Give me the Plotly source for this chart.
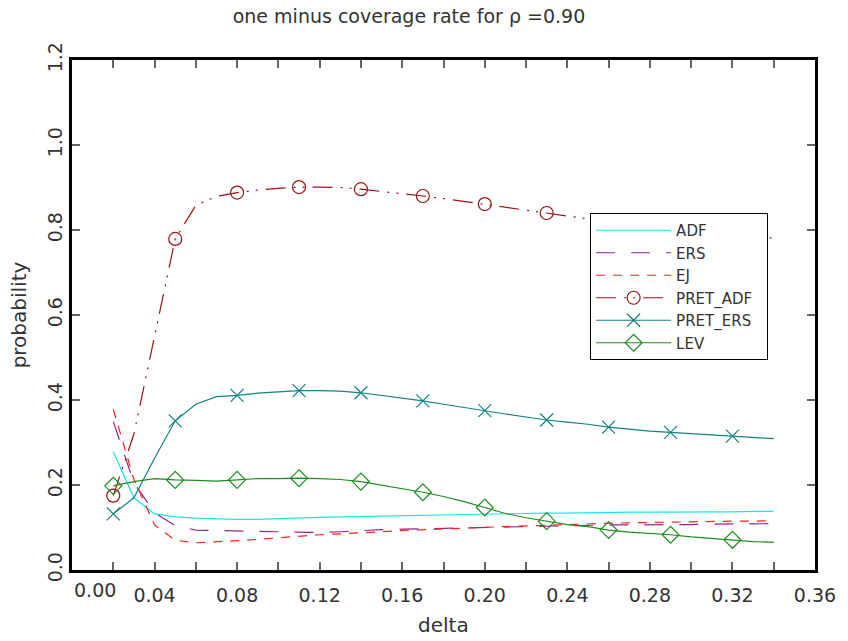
import plotly.graph_objects as go

# delta grid shared by every series
delta = [0.02, 0.03, 0.04, 0.05, 0.06, 0.07, 0.08, 0.09, 0.10, 0.11, 0.12,
         0.13, 0.14, 0.15, 0.16, 0.17, 0.18, 0.19, 0.20, 0.21, 0.22, 0.23,
         0.24, 0.25, 0.26, 0.27, 0.28, 0.29, 0.30, 0.31, 0.32, 0.33, 0.34]

adf = [0.278, 0.170, 0.132, 0.125, 0.122, 0.120, 0.119, 0.119, 0.121, 0.123, 0.124,
       0.125, 0.126, 0.127, 0.128, 0.129, 0.130, 0.131, 0.132, 0.133, 0.133, 0.134,
       0.134, 0.135, 0.135, 0.136, 0.136, 0.136, 0.137, 0.137, 0.137, 0.138, 0.138]

ers = [0.349, 0.205, 0.135, 0.104, 0.094, 0.093, 0.091, 0.090, 0.089, 0.088, 0.088,
       0.090, 0.093, 0.095, 0.096, 0.097, 0.099, 0.100, 0.101, 0.102, 0.103, 0.104,
       0.104, 0.105, 0.106, 0.106, 0.106, 0.107, 0.107, 0.108, 0.108, 0.109, 0.109]

ej = [0.378, 0.213, 0.106, 0.070, 0.064, 0.066, 0.069, 0.072, 0.076, 0.080, 0.083,
      0.085, 0.087, 0.090, 0.093, 0.095, 0.097, 0.099, 0.101, 0.103, 0.104, 0.105,
      0.107, 0.109, 0.110, 0.111, 0.112, 0.113, 0.114, 0.114, 0.115, 0.115, 0.116]

pret_adf = [0.175, 0.320, 0.550, 0.779, 0.858, 0.879, 0.888, 0.894, 0.898, 0.901, 0.901,
            0.900, 0.896, 0.891, 0.886, 0.880, 0.874, 0.867, 0.861, 0.854, 0.847, 0.840,
            0.833, 0.826, 0.820, 0.814, 0.808, 0.803, 0.798, 0.793, 0.789, 0.785, 0.781]

pret_ers = [0.132, 0.170, 0.263, 0.351, 0.390, 0.408, 0.411, 0.416, 0.419, 0.422, 0.422,
            0.421, 0.417, 0.411, 0.405, 0.398, 0.390, 0.382, 0.375, 0.367, 0.360, 0.353,
            0.348, 0.343, 0.336, 0.331, 0.327, 0.324, 0.321, 0.318, 0.315, 0.312, 0.309]

lev = [0.198, 0.208, 0.215, 0.212, 0.211, 0.209, 0.212, 0.215, 0.215, 0.216, 0.215,
       0.213, 0.208, 0.200, 0.192, 0.183, 0.173, 0.161, 0.147, 0.133, 0.123, 0.115,
       0.107, 0.102, 0.094, 0.089, 0.086, 0.083, 0.078, 0.074, 0.071, 0.067, 0.065]

# symbols are drawn on every third delta
marked = list(range(0, len(delta) - 1, 3))

FONT = "DejaVu Sans"
TXT = "#333333"
PAD = "\u00a0" * 2  # widens the legend box a little

fig = go.Figure()


def add_series(name, y, color, dash="solid", symbol=None):
    kw = dict(x=delta, y=y, name=name,
              line=dict(color=color, width=1.2, dash=dash))
    if symbol is None:
        kw["mode"] = "lines"
    else:
        kw["mode"] = "lines+markers"
        kw["marker"] = dict(symbol=symbol, size=13, color=color,
                            line=dict(color=color, width=1.2))
        kw["selectedpoints"] = marked
        kw["selected"] = dict(marker=dict(opacity=1))
        kw["unselected"] = dict(marker=dict(opacity=0))
    fig.add_trace(go.Scatter(**kw))


add_series("ADF", adf, "#19E6E6")
add_series("ERS", ers, "#8E2A8E", dash="19px,16px")
add_series("EJ", ej, "#FF2020", dash="9px,8px")
add_series("PRET_ADF" + PAD, pret_adf, "#961414", dash="20px,8px,2px,7px,2px,8px",
           symbol="circle-open")
add_series("PRET_ERS", pret_ers, "#148282", symbol="x-thin-open")
add_series("LEV", lev, "#1E8C1E", symbol="diamond-open")

axis_common = dict(
    showgrid=False, zeroline=False,
    showline=True, linecolor="black", linewidth=2.5, mirror="allticks",
    ticks="inside", ticklen=8, tickwidth=1.5, tickcolor="#666666",
    tickfont=dict(family=FONT, size=19, color=TXT),
)

fig.update_layout(
    width=848, height=641, autosize=False,
    margin=dict(l=72, r=26, t=60, b=71),
    paper_bgcolor="white", plot_bgcolor="white",
    font=dict(family=FONT, color=TXT),
    title=dict(text="one minus coverage rate for \u03c1 =0.90",
               font=dict(family=FONT, size=19, color=TXT),
               x=409 / 848, xref="container", xanchor="center",
               y=1 - 16 / 641, yref="container", yanchor="middle"),
    xaxis=dict(range=[0, 0.36], tick0=0, dtick=0.04, tickformat=".2f",
               labelalias={"0.00": " "}, ticklabelstandoff=6,
               minor=dict(dtick=0.02, ticks="inside", ticklen=8,
                          tickwidth=1.5, tickcolor="#666666"),
               **axis_common),
    yaxis=dict(range=[0, 1.2], tick0=0, dtick=0.2, tickformat=".1f",
               tickangle=-90,
               title=dict(text="probability", standoff=12,
                          font=dict(family=FONT, size=20, color=TXT)),
               **axis_common),
    legend=dict(x=(595 - 72) / 750, xanchor="left",
                y=(570 - 213) / 510, yanchor="top",
                bgcolor="white", bordercolor="black", borderwidth=1,
                font=dict(family=FONT, size=15, color=TXT),
                itemwidth=75, tracegroupgap=0),
    showlegend=True,
)

# origin label sits just right of the corner
fig.add_annotation(x=0, y=0, xref="x", yref="paper", text="0.00",
                   showarrow=False, xanchor="left", yanchor="middle",
                   yshift=-20, font=dict(family=FONT, size=19, color=TXT))

# x-axis title
fig.add_annotation(x=0.5, y=0, xref="paper", yref="paper", text="delta",
                   showarrow=False, xanchor="center", yanchor="middle",
                   yshift=-55, font=dict(family=FONT, size=20, color=TXT))

fig.write_html("out.html")
